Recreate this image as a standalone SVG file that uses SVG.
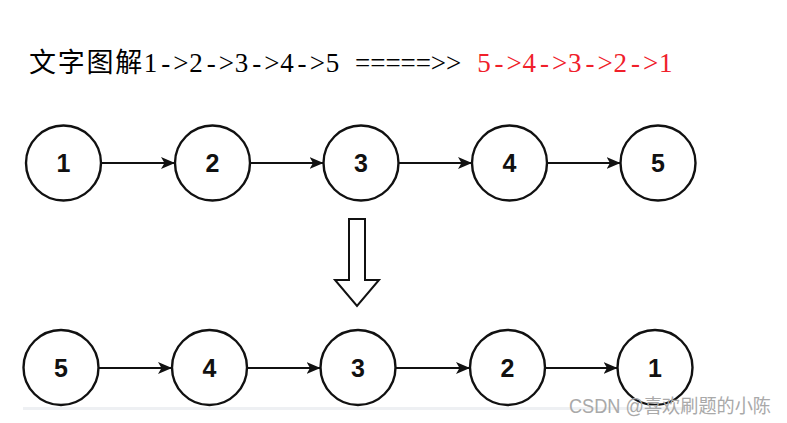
<svg xmlns="http://www.w3.org/2000/svg" width="787" height="423" viewBox="0 0 787 423">
<style>
.node circle{fill:#fff;stroke:#111;stroke-width:2.4}
.node text{font-family:"Liberation Sans",Arial,sans-serif;font-weight:bold;font-size:25px;fill:#111;text-anchor:middle}
.conn line{stroke:#111;stroke-width:2.2}
.t{font-family:"Liberation Serif","Times New Roman",serif;font-size:27px;text-anchor:middle}
.cjk{font-family:"Noto Sans CJK SC",sans-serif;font-size:27px;text-anchor:middle;fill:#000}
</style>
<defs>
<marker id="ah" markerUnits="userSpaceOnUse" markerWidth="15" markerHeight="13" refX="14" refY="6" orient="auto">
<path d="M0,0 L14,6 L0,12 L3.5,6 Z" fill="#111"/>
</marker>
</defs>
<rect width="787" height="423" fill="#fff"/>
<g id="title">
<text class="cjk" y="72" x="42.4 71.2 100 128.8">文字图解</text>
<text class="t" y="72" fill="#000" x="150.6 165.75 180.9 196.05 211.2 226.35 241.5 256.65 271.8 286.95 302.1 317.25 332.4">1-&gt;2-&gt;3-&gt;4-&gt;5</text>
<text class="t" y="72" fill="#000" x="362.7 377.85 393 408.15 423.3 438.45 453.6">=====&gt;&gt;</text>
<text class="t" y="72" fill="#f0202a" x="483.9 499.05 514.2 529.35 544.5 559.65 574.8 589.95 605.1 620.25 635.4 650.55 665.7">5-&gt;4-&gt;3-&gt;2-&gt;1</text>
</g>
<rect id="baseline-band" x="23" y="407" width="670" height="3" fill="#eef0f3"/>
<g id="connectors" class="conn">
<line x1="101" y1="163" x2="175" y2="163" marker-end="url(#ah)"/>
<line x1="250" y1="163" x2="323.5" y2="163" marker-end="url(#ah)"/>
<line x1="399" y1="163" x2="472" y2="163" marker-end="url(#ah)"/>
<line x1="547" y1="163" x2="620.5" y2="163" marker-end="url(#ah)"/>
<line x1="98.5" y1="368" x2="172" y2="368" marker-end="url(#ah)"/>
<line x1="247" y1="368" x2="320.5" y2="368" marker-end="url(#ah)"/>
<line x1="395.5" y1="368" x2="470" y2="368" marker-end="url(#ah)"/>
<line x1="545" y1="368" x2="617.5" y2="368" marker-end="url(#ah)"/>
</g>
<g id="n1" class="node"><circle cx="63.5" cy="163" r="37.5"/><text x="63.5" y="172">1</text></g>
<g id="n2" class="node"><circle cx="212.5" cy="163" r="37.5"/><text x="212.5" y="172">2</text></g>
<g id="n3" class="node"><circle cx="361" cy="163" r="37.5"/><text x="361" y="172">3</text></g>
<g id="n4" class="node"><circle cx="509.5" cy="163" r="37.5"/><text x="509.5" y="172">4</text></g>
<g id="n5" class="node"><circle cx="658" cy="163" r="37.5"/><text x="658" y="172">5</text></g>
<g id="down-arrow"><polygon points="349,219 365,219 365,280 379,280 357,306 335,280 349,280" fill="#fff" stroke="#111" stroke-width="2"/></g>
<g id="m5" class="node"><circle cx="61" cy="367.5" r="37.5"/><text x="61" y="376.5">5</text></g>
<g id="m4" class="node"><circle cx="209.5" cy="367.5" r="37.5"/><text x="209.5" y="376.5">4</text></g>
<g id="m3" class="node"><circle cx="358" cy="367.5" r="37.5"/><text x="358" y="376.5">3</text></g>
<g id="m2" class="node"><circle cx="507.5" cy="367.5" r="37.5"/><text x="507.5" y="376.5">2</text></g>
<g id="m1" class="node"><circle cx="655" cy="367.5" r="37.5"/><text x="655" y="376.5">1</text></g>
<text id="watermark" x="569" y="413" font-family="'Liberation Sans','Noto Sans CJK SC',sans-serif" font-size="19.5" fill="#a9a9a9" textLength="202" lengthAdjust="spacingAndGlyphs">CSDN @喜欢刷题的小陈</text>
</svg>
